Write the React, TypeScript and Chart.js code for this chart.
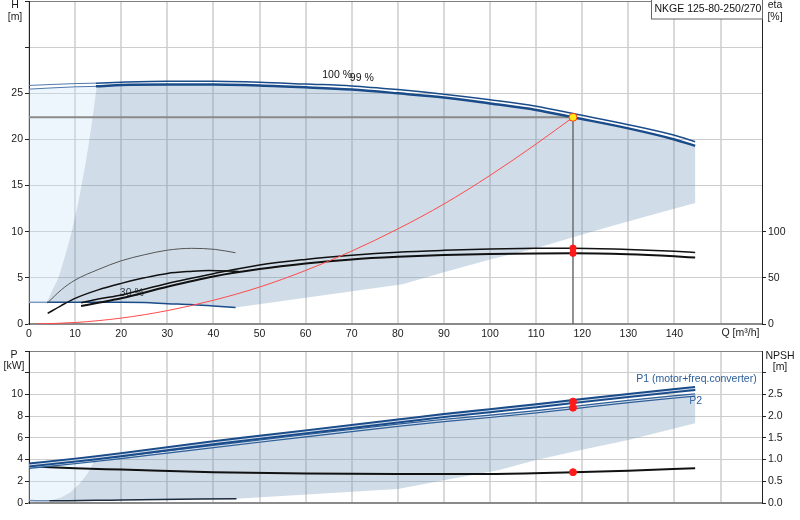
import React, { useEffect, useRef } from 'react';
import { Chart, registerables } from 'chart.js';

Chart.register(...registerables);

const FONT = '"Liberation Sans", Arial, sans-serif';
const BLUE = '#1b4c8a';

// ---- Q-H (m3/h, m) ----
const qHead = [0, 10, 14.5, 20, 30, 40, 50, 60, 70, 80, 90, 100, 110, 118, 130, 140, 144.5];
const head100 = [25.85, 26.05, 26.1, 26.2, 26.3, 26.3, 26.2, 26.0, 25.8, 25.4, 24.9, 24.3, 23.6, 22.8, 21.6, 20.45, 19.75];
const head99 = [25.45, 25.7, 25.75, 25.9, 25.95, 25.95, 25.85, 25.65, 25.4, 25.0, 24.55, 23.9, 23.2, 22.4, 21.2, 20.0, 19.3];

// min speed head
const qHmin = [0, 3.9, 10, 20, 25, 30, 35, 40, 44.8];
const hHmin = [2.35, 2.35, 2.35, 2.35, 2.33, 2.2, 2.1, 1.95, 1.8];

// envelope boundaries
const qLeft = [3.9, 5, 6.4, 7.9, 9.25, 10.4, 11.4, 12.3, 13.1, 13.8, 14.7];
const hLeft = [2.35, 3.6, 5, 7.5, 10, 12.5, 15, 17.5, 20, 22.4, 25.8];
const qEnvLow = [144.5, 135, 127, 118, 110, 100, 90, 81];
const hEnvLow = [13.1, 11.8, 10.7, 9.4, 8.2, 7.0, 5.6, 4.3];

// efficiency (%)
const qEta = [11.3, 15, 20, 30, 40, 50, 60, 70, 80, 90, 100, 110, 118, 130, 140, 144.5];
const etaHi = [23, 27, 31.5, 44, 54.5, 64, 70, 74.5, 77.8, 79.8, 81.2, 82, 82.2, 80.8, 78.7, 77.6];
const etaLo = [19.5, 23, 27.8, 40.4, 51.5, 59.5, 65.5, 70, 72.8, 74.7, 75.8, 76.5, 76.7, 75.5, 73.3, 72];
const qEtaA = [4.05, 7, 10, 15, 20, 25, 30, 35.3, 40.4, 44.8];
const etaA = [23, 37, 47.6, 59, 68.5, 75, 80, 82, 80.8, 77.2];
const qEtaB = [4.05, 7, 10, 15, 20, 25, 30, 35, 39, 45.5];
const etaB = [11.5, 20, 27.8, 37, 44, 50, 54.8, 57, 58, 57];

// system curve
const qSys = [1.3, 10, 20, 30, 40, 50, 60, 70, 80, 90, 100, 110, 118];
const hSys = [0, 0.16, 0.64, 1.45, 2.57, 4.0, 5.8, 7.9, 10.3, 13.0, 16.1, 19.5, 22.4];

// duty point
const opQ = 118;
const opH = 22.4;
const opEta = [82.2, 76.7];
const opP = [9.34, 8.78];
const opNpsh = 0.71;

// ---- power (kW) and NPSH (m) ----
const qPower = [0, 10, 14.2, 20, 30, 40, 50, 60, 70, 80, 90, 100, 110, 118, 130, 144.5];
const p1 = [3.5, 3.95, 4.15, 4.45, 5.0, 5.55, 6.05, 6.55, 7.05, 7.55, 8.05, 8.5, 8.95, 9.34, 9.9, 10.55];
const p2 = [3.3, 3.72, 3.92, 4.2, 4.7, 5.2, 5.7, 6.2, 6.68, 7.16, 7.6, 7.98, 8.4, 8.78, 9.35, 9.95];
const qPmin = [0, 4.4, 20, 45];
const pMin = [0.22, 0.2, 0.28, 0.4];
const qPLeft = [4.4, 7, 9, 11, 12.5, 13.5, 14.2];
const pLeft = [0.2, 0.5, 1.0, 1.8, 2.6, 3.3, 3.92];
const qPEnvLow = [144.5, 130, 120, 110, 102, 90, 80];
const pEnvLow = [7.35, 5.8, 4.9, 3.96, 3.04, 2.1, 1.3];
const qNpsh = [0, 10, 20, 40, 60, 80, 100, 118, 130, 144.5];
const npsh = [0.84, 0.8, 0.77, 0.71, 0.68, 0.665, 0.67, 0.71, 0.745, 0.8];

type Pt = { x: number; y: number };
const pts = (xs: number[], ys: number[]): Pt[] => xs.map((x, i) => ({ x, y: ys[i] }));

const topNotes = [
  { text: '100 %', x: 63.6, y: 27.0 },
  { text: '99 %', x: 69.6, y: 26.65 },
  { text: '30 %', x: 19.7, y: 3.35 },
];
const bottomNotes = [
  { text: 'P1 (motor+freq.converter)', x: 131.7, y: 11.42, color: '#2a5d9a' },
  { text: 'P2', x: 143.2, y: 9.35, color: '#2a5d9a' },
];

// curve labels go under the lines, axis titles and the type box on top
const notesPlugin = {
  id: 'notes',
  beforeDatasetsDraw(chart: any, _args: any, opts: any) {
    const { ctx, scales } = chart;
    ctx.save();
    ctx.font = `10.5px ${FONT}`;
    ctx.textBaseline = 'middle';
    ctx.textAlign = 'left';
    for (const n of opts.items || []) {
      ctx.fillStyle = n.color || '#111';
      ctx.fillText(n.text, scales.x.getPixelForValue(n.x), scales.y.getPixelForValue(n.y));
    }
    ctx.restore();
  },
  afterDraw(chart: any, _args: any, opts: any) {
    const { ctx, chartArea, scales } = chart;
    ctx.save();
    ctx.font = `10.5px ${FONT}`;
    ctx.textBaseline = 'middle';
    ctx.textAlign = 'center';
    ctx.fillStyle = '#1a1a1a';
    for (const t of opts.titles || []) {
      const x = t.side === 'left' ? chartArea.left + t.dx : chartArea.right + t.dx;
      ctx.fillText(t.text, x, chartArea.top + t.dy);
    }
    if (opts.qLabel) {
      ctx.textAlign = 'left';
      ctx.fillText('Q [m³/h]', scales.x.getPixelForValue(150) + 1, chartArea.bottom + 9.5);
    }
    if (opts.box) {
      const w = 111;
      const l = chartArea.right - w;
      ctx.fillStyle = '#fff';
      ctx.fillRect(l, 0, w, 19);
      ctx.strokeStyle = '#666';
      ctx.lineWidth = 1;
      ctx.strokeRect(l + 0.5, -0.5, w, 19.5);
      ctx.fillStyle = '#111';
      ctx.textAlign = 'left';
      ctx.fillText(opts.box, l + 3.5, 9);
    }
    ctx.restore();
  },
};

const curve = (data: Pt[], color: string, width: number, yAxisID = 'y', extra: any = {}) => ({
  data, borderColor: color, borderWidth: width, pointRadius: 0, fill: false,
  cubicInterpolationMode: 'monotone', yAxisID, ...extra,
});
const area = (data: Pt[], color: string) => ({
  data, borderColor: 'transparent', borderWidth: 1, backgroundColor: color,
  fill: 'shape', pointRadius: 0, tension: 0, yAxisID: 'y',
});
const dots = (data: Pt[], fillColor: string, border: string, r: number, yAxisID = 'y') => ({
  data, showLine: false, pointRadius: r, pointBackgroundColor: fillColor,
  pointBorderColor: border, pointBorderWidth: 1, yAxisID,
});
const ordered = (list: any[]) => list.map((d, i) => ({ ...d, order: list.length - i }));

const xScale = (showLabels: boolean, height: number) => ({
  type: 'linear', min: 0, max: 159,
  ticks: {
    display: showLabels, stepSize: 10, includeBounds: false, maxRotation: 0, autoSkip: false,
    padding: 4, color: '#1a1a1a', font: { size: 10.5, family: FONT },
    callback: (v: number) => (v <= 140 ? String(v) : ''),
  },
  grid: { color: '#d9d9d9', lineWidth: 2, drawTicks: false },
  border: { color: '#8a8a8a', width: 2 },
  afterFit: (s: any) => { s.height = height; s.paddingLeft = 0; s.paddingRight = 0; },
});
const yScale = (position: string, max: number, step: number, labelMax: number, tickMax: number, width: number, fmt: (v: number) => string, onArea: boolean) => ({
  type: 'linear', position, min: 0, max,
  ticks: {
    stepSize: step, padding: 2, color: '#1a1a1a', font: { size: 10.5, family: FONT },
    callback: (v: number) => (v <= labelMax + 1e-6 ? fmt(v) : ''),
  },
  grid: {
    drawOnChartArea: onArea, tickLength: 4, lineWidth: 1,
    color: (c: any) => (c.tick && Math.abs(c.tick.value - max) < 1e-6 ? '#7f7f7f' : '#cdcdcd'),
    tickColor: (c: any) => (c.tick && c.tick.value <= tickMax + 1e-6 ? '#222' : 'transparent'),
  },
  border: { color: '#222', width: 1 },
  afterFit: (s: any) => { s.width = width; s.paddingTop = 0; s.paddingBottom = 0; },
});

const baseOptions = (padTop: number) => ({
  responsive: false, animation: false, events: [],
  layout: { autoPadding: false, padding: { top: padTop, left: 0, right: 0, bottom: 0 } },
});

const headSegment = {
  borderColor: (c: any) => (c.p1.parsed.x <= 14.5 ? '#4f78ab' : undefined),
  borderWidth: (c: any) => (c.p1.parsed.x <= 14.5 ? 1 : undefined),
};

function topConfig(): any {
  const envelope = [
    ...pts(qHead, head99).filter(p => p.x >= 14.5),
    ...pts(qEnvLow, hEnvLow),
    ...pts(qHmin, hHmin).filter(p => p.x >= 3.9).reverse(),
    ...pts(qLeft, hLeft),
  ];
  const light = [
    ...pts(qHead, head99).filter(p => p.x <= 14.5),
    ...pts(qLeft, hLeft).reverse(),
    ...pts(qHmin, hHmin).filter(p => p.x <= 3.9).reverse(),
  ];
  const datasets = ordered([
    area(light, 'rgba(200,225,250,0.32)'),
    area(envelope, 'rgba(110,145,185,0.32)'),
    curve(pts([0, opQ], [opH, opH]), '#8a8a8a', 2, 'y', { cubicInterpolationMode: 'default' }),
    curve(pts([opQ, opQ], [opH, 0]), '#6e6e6e', 1.5, 'y', { cubicInterpolationMode: 'default' }),
    curve(pts(qHmin, hHmin), BLUE, 1.5, 'y', {
      segment: { borderColor: (c: any) => (c.p1.parsed.x <= 3.9 ? '#7d9cc4' : undefined) },
    }),
    curve(pts(qEtaA, etaA), '#555', 1, 'y2'),
    curve(pts(qEtaB, etaB), '#111', 1.5, 'y2'),
    curve(pts(qEta, etaHi), '#111', 1.5, 'y2'),
    curve(pts(qEta, etaLo), '#111', 2, 'y2'),
    curve(pts(qSys, hSys), '#ff4a4a', 1),
    curve(pts(qHead, head100), BLUE, 1.5, 'y', { segment: headSegment }),
    curve(pts(qHead, head99), BLUE, 2.5, 'y', { segment: headSegment }),
    dots(pts([opQ, opQ], opEta), '#ff1a1a', '#ff1a1a', 3.2, 'y2'),
    dots(pts([opQ], [opH]), '#ffe81a', '#ff3b1a', 4),
  ]);
  return {
    type: 'line',
    data: { datasets },
    options: {
      ...baseOptions(1),
      scales: {
        x: xScale(true, 16),
        y: yScale('left', 35, 5, 25, 35, 29, v => String(v), true),
        y2: yScale('right', 350, 50, 100, 100, 38, v => String(v), false),
      },
      plugins: {
        legend: { display: false }, tooltip: { enabled: false },
        notes: {
          items: topNotes,
          qLabel: true,
          box: 'NKGE 125-80-250/270',
          titles: [
            { text: 'H', side: 'left', dx: -14, dy: 4.5 },
            { text: '[m]', side: 'left', dx: -14, dy: 16.5 },
            { text: 'eta', side: 'right', dx: 13, dy: 4.5 },
            { text: '[%]', side: 'right', dx: 13, dy: 16.5 },
          ],
        },
      },
    },
    plugins: [notesPlugin],
  };
}

function bottomConfig(): any {
  const envelope = [
    ...pts(qPower, p2).filter(p => p.x >= 14.2),
    ...pts(qPEnvLow, pEnvLow),
    ...pts(qPmin, pMin).filter(p => p.x >= 4.4).reverse(),
    ...pts(qPLeft, pLeft),
  ];
  const light = [
    ...pts(qPower, p2).filter(p => p.x <= 14.2),
    ...pts(qPLeft, pLeft).reverse(),
    ...pts(qPmin, pMin).filter(p => p.x < 4.4).reverse(),
  ];
  const datasets = ordered([
    area(light, 'rgba(200,225,250,0.32)'),
    area(envelope, 'rgba(110,145,185,0.32)'),
    curve(pts(qPmin, pMin), '#1c2a3e', 1.5, 'y', {
      segment: { borderColor: (c: any) => (c.p1.parsed.x <= 4.4 ? '#6f8db5' : undefined) },
    }),
    curve(pts(qNpsh, npsh), '#111', 2, 'y2'),
    curve(pts(qPower, p2), '#2f5f97', 3.5),
    curve(pts(qPower, p2), 'rgba(235,240,247,0.9)', 1),
    curve(pts(qPower, p1), BLUE, 5),
    curve(pts(qPower, p1), 'rgba(225,233,243,0.95)', 1),
    dots(pts([opQ, opQ], opP), '#ff1a1a', '#ff1a1a', 3.5),
    dots(pts([opQ], [opNpsh]), '#ff1a1a', '#ff1a1a', 3.5, 'y2'),
  ]);
  return {
    type: 'line',
    data: { datasets },
    options: {
      ...baseOptions(11),
      scales: {
        x: xScale(false, 17),
        y: yScale('left', 14, 2, 10, 14, 29, v => String(v), true),
        y2: yScale('right', 3.5, 0.5, 2.5, 3.0, 38, v => v.toFixed(1), false),
      },
      plugins: {
        legend: { display: false }, tooltip: { enabled: false },
        notes: {
          items: bottomNotes,
          titles: [
            { text: 'P', side: 'left', dx: -15, dy: 4.5 },
            { text: '[kW]', side: 'left', dx: -15, dy: 15.5 },
            { text: 'NPSH', side: 'right', dx: 18, dy: 5 },
            { text: '[m]', side: 'right', dx: 18, dy: 16 },
          ],
        },
      },
    },
    plugins: [notesPlugin],
  };
}

export default function App() {
  const topRef = useRef<HTMLCanvasElement>(null);
  const bottomRef = useRef<HTMLCanvasElement>(null);

  useEffect(() => {
    const charts: Chart[] = [];
    if (topRef.current) charts.push(new Chart(topRef.current, topConfig()));
    if (bottomRef.current) charts.push(new Chart(bottomRef.current, bottomConfig()));
    return () => charts.forEach(c => c.destroy());
  }, []);

  return (
    <div style={{ position: 'fixed', left: 0, top: 0, width: 800, height: 520, background: '#fff' }}>
      <canvas ref={topRef} width={800} height={340} style={{ position: 'absolute', left: 0, top: 0 }} />
      <canvas ref={bottomRef} width={800} height={180} style={{ position: 'absolute', left: 0, top: 340 }} />
    </div>
  );
}
